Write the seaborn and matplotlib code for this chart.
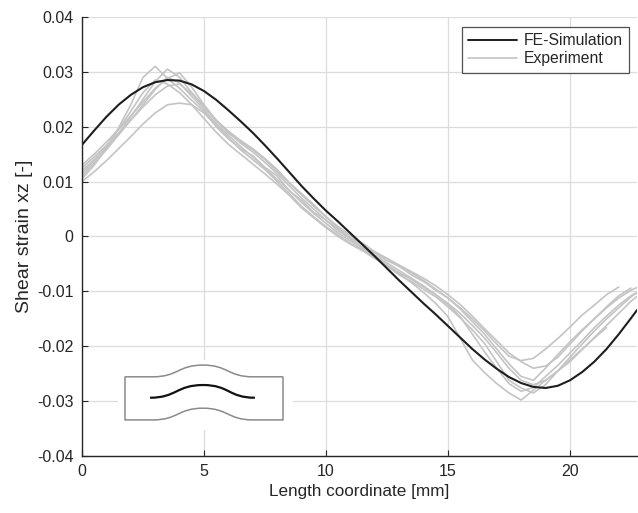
import numpy as np
import pandas as pd
import matplotlib
matplotlib.use("Agg")
import matplotlib.pyplot as plt
from matplotlib.path import Path
from matplotlib.patches import PathPatch
from matplotlib.lines import Line2D
import seaborn as sns

# ---------------- data ----------------
fe_x = [0, 0.5, 1, 1.5, 2, 2.5, 3, 3.5, 4, 4.5, 5, 5.5, 6, 6.5, 7, 7.5, 8, 8.5, 9, 9.5,
        10, 10.5, 11, 11.5, 12, 12.5, 13, 13.5, 14, 14.5, 15, 15.5, 16, 16.5, 17, 17.5,
        18, 18.5, 19, 19.5, 20, 20.5, 21, 21.5, 22, 22.5, 22.75]
fe_y = [0.0167, 0.0193, 0.0218, 0.0240, 0.0258, 0.0272, 0.0281, 0.0285, 0.0284, 0.0277,
        0.0265, 0.0249, 0.0230, 0.0210, 0.0189, 0.0166, 0.0142, 0.0117, 0.0092, 0.0069,
        0.0047, 0.0027, 0.0006, -0.0015, -0.0036, -0.0058, -0.0080, -0.0101, -0.0122,
        -0.0142, -0.0163, -0.0184, -0.0205, -0.0224, -0.0241, -0.0256, -0.0267, -0.0274,
        -0.0276, -0.0272, -0.0262, -0.0247, -0.0228, -0.0205, -0.0178, -0.0149, -0.0134]

exp_x = [i * 0.5 for i in range(47)]  # 0 ... 23 mm (clipped at the axis edge)

exp_1 = [0.0105, 0.0130, 0.0160, 0.0198, 0.0240, 0.0290, 0.0310, 0.0288, 0.0270, 0.0248,
         0.0228, 0.0200, 0.0178, 0.0160, 0.0147, 0.0126, 0.0110, 0.0083, 0.0066, 0.0044,
         0.0030, 0.0010, -0.0004, -0.0020, -0.0030, -0.0044, -0.0054, -0.0070, -0.0082,
         -0.0098, -0.0112, -0.0130, -0.0150, -0.0172, -0.0196, -0.0218, -0.0226, -0.0222,
         -0.0205, -0.0186, -0.0165, -0.0143, -0.0125, -0.0106, -0.0092]
exp_2 = [0.0120, 0.0140, 0.0162, 0.0188, 0.0218, 0.0250, 0.0282, 0.0305, 0.0290, 0.0262,
         0.0238, 0.0210, 0.0188, 0.0172, 0.0158, 0.0140, 0.0118, 0.0097, 0.0076, 0.0055,
         0.0036, 0.0016, -0.0004, -0.0022, -0.0036, -0.0052, -0.0068, -0.0084, -0.0102,
         -0.0122, -0.0146, -0.0185, -0.0225, -0.0248, -0.0268, -0.0285, -0.0298, -0.0280,
         -0.0262, -0.0245, -0.0228, -0.0206, -0.0184, -0.0162, -0.0140, -0.0118, -0.0100]
exp_3 = [0.0130, 0.0150, 0.0172, 0.0195, 0.0220, 0.0245, 0.0270, 0.0288, 0.0298, 0.0272,
         0.0240, 0.0212, 0.0192, 0.0175, 0.0160, 0.0142, 0.0122, 0.0098, 0.0078, 0.0058,
         0.0036, 0.0018, 0.0002, -0.0012, -0.0028, -0.0040, -0.0055, -0.0066, -0.0080,
         -0.0096, -0.0112, -0.0132, -0.0155, -0.0178, -0.0205, -0.0232, -0.0255, -0.0262,
         -0.0240, -0.0215, -0.0192, -0.0170, -0.0150, -0.0130, -0.0112, -0.0098, -0.0088]
exp_4 = [0.0100, 0.0118, 0.0138, 0.0160, 0.0182, 0.0205, 0.0225, 0.0240, 0.0243, 0.0240,
         0.0225, 0.0202, 0.0180, 0.0158, 0.0140, 0.0122, 0.0100, 0.0078, 0.0055, 0.0036,
         0.0018, 0.0002, -0.0012, -0.0024, -0.0038, -0.0052, -0.0066, -0.0078, -0.0092,
         -0.0106, -0.0122, -0.0140, -0.0162, -0.0185, -0.0212, -0.0240, -0.0262, -0.0270,
         -0.0262, -0.0245, -0.0225, -0.0205, -0.0185, -0.0166]
exp_5 = [0.0115, 0.0138, 0.0165, 0.0195, 0.0228, 0.0262, 0.0285, 0.0278, 0.0262, 0.0240,
         0.0215, 0.0190, 0.0168, 0.0150, 0.0132, 0.0114, 0.0095, 0.0075, 0.0052, 0.0034,
         0.0016, 0.0000, -0.0014, -0.0026, -0.0040, -0.0054, -0.0070, -0.0082, -0.0096,
         -0.0110, -0.0128, -0.0148, -0.0170, -0.0195, -0.0228, -0.0262, -0.0276, -0.0285,
         -0.0270, -0.0245, -0.0220, -0.0196, -0.0172, -0.0150, -0.0130, -0.0110, -0.0094]
exp_6 = [0.0125, 0.0145, 0.0166, 0.0188, 0.0212, 0.0236, 0.0258, 0.0274, 0.0278, 0.0260,
         0.0236, 0.0212, 0.0190, 0.0170, 0.0154, 0.0135, 0.0114, 0.0092, 0.0070, 0.0050,
         0.0030, 0.0014, -0.0002, -0.0014, -0.0028, -0.0040, -0.0052, -0.0064, -0.0076,
         -0.0090, -0.0106, -0.0124, -0.0145, -0.0168, -0.0190, -0.0212, -0.0228, -0.0240,
         -0.0236, -0.0220, -0.0196, -0.0172, -0.0150, -0.0128, -0.0108, -0.0094]
exp_7 = [0.0110, 0.0134, 0.0158, 0.0185, 0.0212, 0.0240, 0.0268, 0.0290, 0.0280, 0.0255,
         0.0232, 0.0205, 0.0184, 0.0164, 0.0145, 0.0124, 0.0104, 0.0084, 0.0062, 0.0042,
         0.0024, 0.0006, -0.0008, -0.0020, -0.0034, -0.0048, -0.0062, -0.0076, -0.0090,
         -0.0106, -0.0124, -0.0146, -0.0178, -0.0210, -0.0240, -0.0268, -0.0282, -0.0275,
         -0.0255, -0.0235, -0.0212, -0.0190, -0.0166, -0.0145, -0.0125, -0.0108, -0.0096]
experiments = [exp_1, exp_2, exp_3, exp_4, exp_5, exp_6, exp_7]

x_ticks = [0, 5, 10, 15, 20]
x_tick_labels = ["0", "5", "10", "15", "20"]
y_ticks = [-0.04, -0.03, -0.02, -0.01, 0, 0.01, 0.02, 0.03, 0.04]
y_tick_labels = ["-0.04", "-0.03", "-0.02", "-0.01", "0", "0.01", "0.02", "0.03", "0.04"]

# inset sketch of specimen (inset-axes fraction coordinates)
outline_left, outline_right = 0.04, 0.943
outline_top, outline_bottom = 0.761, 0.143
bump_start, bump_peak, bump_end = 0.20, 0.486, 0.771
bump_height = 0.168
mid_start, mid_end, mid_base, mid_peak = 0.183, 0.783, 0.461, 0.643

# ---------------- style ----------------
sns.set_theme(style="whitegrid")
plt.rcParams["font.family"] = ["Liberation Sans", "DejaVu Sans"]
plt.rcParams["axes.unicode_minus"] = False

fig = plt.figure(figsize=(6.38, 5.13), dpi=100)
ax = fig.add_axes([0.1285, 0.111, 0.870, 0.856])

exp_df = pd.concat(
    [pd.DataFrame({"x": exp_x[:len(v)], "y": v, "run": i}) for i, v in enumerate(experiments)],
    ignore_index=True)
sns.lineplot(data=exp_df, x="x", y="y", units="run", estimator=None, color="#c4c4c4",
             linewidth=1.2, ax=ax, legend=False)
fe_df = pd.DataFrame({"x": fe_x, "y": fe_y})
sns.lineplot(data=fe_df, x="x", y="y", color="#1e1e1e", linewidth=1.5, ax=ax, legend=False)

ax.set_xlim(0, 22.75)
ax.set_ylim(-0.04, 0.04)
ax.set_xticks(x_ticks)
ax.set_xticklabels(x_tick_labels)
ax.set_yticks(y_ticks)
ax.set_yticklabels(y_tick_labels)
ax.grid(True, color="#dcdcdc", linewidth=0.9)
ax.set_facecolor("white")
for s in ["top", "right"]:
    ax.spines[s].set_visible(False)
for s in ["left", "bottom"]:
    ax.spines[s].set_visible(True)
    ax.spines[s].set_color("#262626")
    ax.spines[s].set_linewidth(1.0)
ax.tick_params(axis="both", direction="in", length=4, width=0.8, color="#262626",
               labelsize=11.5, labelcolor="#262626", left=True, bottom=True, pad=6)
ax.set_xlabel("Length coordinate [mm]", fontsize=12.3, color="#262626", labelpad=3)
ax.set_ylabel("Shear strain xz [-]", fontsize=14, color="#262626", labelpad=3)

handles = [Line2D([], [], color="#1e1e1e", linewidth=1.4),
           Line2D([], [], color="#c4c4c4", linewidth=1.2)]
leg = ax.legend(handles, ["FE-Simulation", "Experiment"], loc="upper right",
                bbox_to_anchor=(0.985, 0.977), fontsize=11.3, frameon=True, fancybox=False,
                handlelength=3.1, handletextpad=0.4, borderpad=0.4, labelspacing=0.2,
                borderaxespad=0)
leg.get_frame().set_edgecolor("#262626")
leg.get_frame().set_linewidth(0.9)
for t in leg.get_texts():
    t.set_color("#262626")

# ---------------- inset sketch ----------------
ins = fig.add_axes([0.185, 0.162, 0.274, 0.136])
ins.set_xlim(0, 1)
ins.set_ylim(0, 1)
ins.axis("off")
ins.add_patch(plt.Rectangle((0, 0), 1, 1, transform=ins.transAxes, facecolor="white",
                            edgecolor="none", zorder=0))

def edge_path(base, h):
    w1 = (bump_peak - bump_start) * 0.5
    w2 = (bump_end - bump_peak) * 0.5
    verts = [(outline_left, base), (bump_start, base),
             (bump_start + w1, base), (bump_peak - w1, base + h), (bump_peak, base + h),
             (bump_peak + w2, base + h), (bump_end - w2, base), (bump_end, base),
             (outline_right, base)]
    codes = [Path.MOVETO, Path.LINETO, Path.CURVE4, Path.CURVE4, Path.CURVE4,
             Path.CURVE4, Path.CURVE4, Path.CURVE4, Path.LINETO]
    return Path(verts, codes)

for base in (outline_top, outline_bottom):
    ins.add_patch(PathPatch(edge_path(base, bump_height), facecolor="none",
                            edgecolor="#8a8a8a", linewidth=1.1))
ins.plot([outline_left, outline_left], [outline_bottom, outline_top], color="#8a8a8a", lw=1.1)
ins.plot([outline_right, outline_right], [outline_bottom, outline_top], color="#8a8a8a", lw=1.1)

mid_c = (bump_peak - mid_start) * 0.5
mid_verts = [(mid_start, mid_base), (mid_start + mid_c, mid_base), (bump_peak - mid_c, mid_peak),
             (bump_peak, mid_peak), (bump_peak + mid_c, mid_peak), (mid_end - mid_c, mid_base),
             (mid_end, mid_base)]
mid_codes = [Path.MOVETO] + [Path.CURVE4] * 6
ins.add_patch(PathPatch(Path(mid_verts, mid_codes), facecolor="none", edgecolor="#111111",
                        linewidth=1.6))

fig.savefig("out.png", dpi=100, facecolor="white")
